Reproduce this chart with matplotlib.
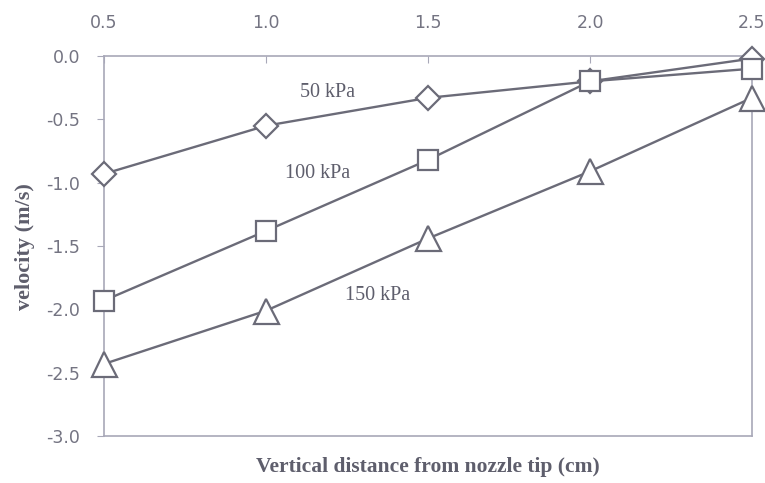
import matplotlib.pyplot as plt

# vertical distance from nozzle tip (cm)
distance = [0.5, 1.0, 1.5, 2.0, 2.5]

# velocity (m/s) for each pressure
vel_50 = [-0.93, -0.55, -0.33, -0.20, -0.02]
vel_100 = [-1.93, -1.38, -0.82, -0.20, -0.10]
vel_150 = [-2.43, -2.01, -1.44, -0.91, -0.33]

labels = ['50 kPa', '100 kPa', '150 kPa']
label_pos = [(1.19, -0.29), (1.16, -0.93), (1.345, -1.89)]

y_ticks = [0.0, -0.5, -1.0, -1.5, -2.0, -2.5, -3.0]

line_color = '#6b6b78'
frame_color = '#a8a8b8'
text_color = '#5e5e6c'

fig = plt.figure(figsize=(7.65, 4.83), dpi=100)
ax = fig.add_axes([0.136, 0.097, 0.847, 0.787])

style = dict(color=line_color, lw=1.7, mfc='white', mec=line_color,
             mew=1.6, zorder=3, clip_on=False)
ax.plot(distance, vel_50, marker='D', ms=12, **style)
ax.plot(distance, vel_100, marker='s', ms=15, **style)
ax.plot(distance, vel_150, marker='^', ms=18, **style)

for lab, (x, y) in zip(labels, label_pos):
    ax.text(x, y, lab, ha='center', va='center', family='Liberation Serif',
            fontsize=14.5, color=text_color)

ax.set_xlim(0.5, 2.5)
ax.set_ylim(-3.0, 0.0)
ax.set_xticks(distance)
ax.set_xticklabels(['%.1f' % v for v in distance])
ax.set_yticks(y_ticks)
ax.set_yticklabels(['%.1f' % v for v in y_ticks])

ax.xaxis.tick_top()
ax.tick_params(axis='x', direction='in', length=5, color=frame_color,
               labelsize=12.5, labelcolor='#747482', pad=17)
ax.tick_params(axis='y', direction='out', length=5, color=frame_color,
               labelsize=12.5, labelcolor='#747482', pad=12)
for s in ax.spines.values():
    s.set_color(frame_color)
    s.set_linewidth(1.2)

ax.set_xlabel('Vertical distance from nozzle tip (cm)', family='Liberation Serif',
              fontsize=15.5, fontweight='bold', color=text_color, labelpad=15)
ax.set_ylabel('velocity (m/s)', family='Liberation Serif', fontsize=16,
              fontweight='bold', color=text_color, labelpad=8)

fig.savefig('out.png', dpi=100)
